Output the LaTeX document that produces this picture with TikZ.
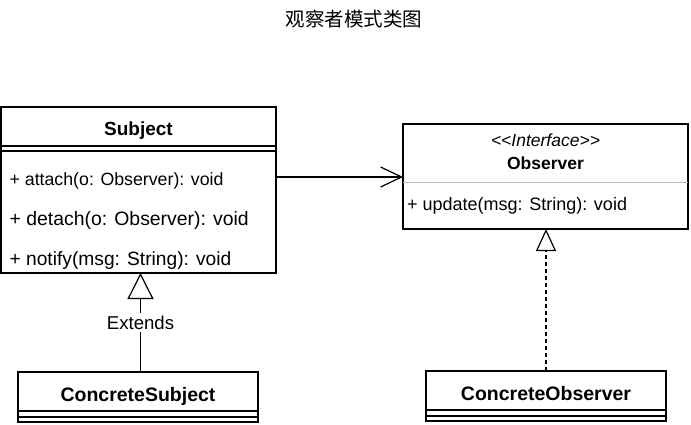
\documentclass[tikz,border=0pt]{standalone}
\usepackage{fontspec}
\setmainfont{Liberation Sans}
\newfontfamily\cjkfont{Noto Sans CJK SC}
\usetikzlibrary{arrows.meta,positioning,fit}

\begin{document}
\begin{tikzpicture}[
  x=1pt,y=-1pt,line width=1.2pt,
  font=\fontsize{18}{21}\selectfont,
  headbox/.style={draw,inner sep=0pt,outer sep=0pt,minimum height=39pt,
                  text height=20pt,text depth=1pt,font=\fontsize{19.5}{22}\selectfont\bfseries},
  partbox/.style={draw,inner sep=0pt,outer sep=0pt},
  method/.style={anchor=base west,inner sep=0pt},
  inherit/.style={-{Triangle[open,length=26pt,width=26pt]}},
  realize/.style={-{Triangle[open,length=22pt,width=20pt]},dash pattern=on 4pt off 3pt},
  assoc/.style={-{Straight Barb[length=21pt,width=20pt]}}
]
\useasboundingbox (0,0) rectangle (691,425);

\node[font=\cjkfont\fontsize{19.5}{22}\selectfont] (title) at (354,19) {观察者模式类图};

% Subject
\node[headbox,minimum width=275pt,font=\fontsize{19}{22}\selectfont\bfseries] (subject) at (138.5,126.5) {Subject};
\node[partbox,minimum width=275pt,minimum height=5pt,below=0pt of subject] (subjattr) {};
\node[partbox,minimum width=275pt,minimum height=122pt,below=0pt of subjattr] (subjops) {};
\node[method,font=\fontsize{17.75}{21}\selectfont] (attach) at (9,185.5) {+ attach(o: Observer): void};
\node[method,font=\fontsize{19.4}{22}\selectfont] (detach) at (9,225.5) {+ detach(o: Observer): void};
\node[method,font=\fontsize{19.2}{22}\selectfont] (notify) at (9,265) {+ notify(msg: String): void};

% Observer (interface)
\node[inner sep=0pt,outer sep=0pt,minimum width=285pt,minimum height=59pt] (obshead) at (545.5,153.5) {};
\node[inner sep=0pt,outer sep=0pt,minimum width=285pt,minimum height=46pt,below=0pt of obshead] (obsops) {};
\node[draw,inner sep=0pt,outer sep=0pt,fit=(obshead)(obsops)] (observer) {};
\draw[gray!55,line width=1pt] (obshead.south west) -- (obshead.south east);
\node[anchor=base,font=\fontsize{17.5}{21}\selectfont\itshape] (stereo) at (545.5,146.5) {<\kern0pt<Interface>\kern0pt>};
\node[anchor=base,font=\fontsize{17.5}{21}\selectfont\bfseries] (obsname) at (545.5,169.5) {Observer};
\node[method] (update) at (406.5,210) {+ update(msg: String): void};

% concrete classes
\node[headbox,minimum width=240pt] (consubject) at (138,391.5) {ConcreteSubject};
\node[partbox,minimum width=240pt,minimum height=6pt,below=0pt of consubject] (consubjattr) {};
\node[partbox,minimum width=240pt,minimum height=5pt,below=0pt of consubjattr] (consubjops) {};

\node[headbox,minimum width=240pt] (conobserver) at (546,390.5) {ConcreteObserver};
\node[partbox,minimum width=240pt,minimum height=6pt,below=0pt of conobserver] (conobsattr) {};
\node[partbox,minimum width=240pt,minimum height=5pt,below=0pt of conobsattr] (conobsops) {};

% relations
\coordinate (assocstart) at ([yshift=35pt]subjops.east);
\draw[assoc] (assocstart) -- (assocstart -| observer.west);
\coordinate (extfoot) at ([xshift=2.5pt]consubject.north);
\draw[inherit] (extfoot) -- (extfoot |- subjops.south)
  node[pos=0.5,fill=white,inner sep=3pt,font=\fontsize{18.6}{22}\selectfont] (extends) {Extends};
\draw[realize] (conobserver.north) -- (conobserver.north |- observer.south);
\end{tikzpicture}
\end{document}
